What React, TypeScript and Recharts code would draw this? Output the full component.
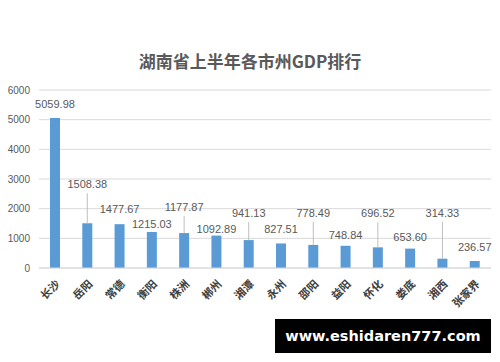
import React from 'react';
import { BarChart, Bar, XAxis, YAxis, CartesianGrid, LabelList } from 'recharts';

const categories = ['长沙', '岳阳', '常德', '衡阳', '株洲', '郴州', '湘潭', '永州', '邵阳', '益阳', '怀化', '娄底', '湘西', '张家界'];
const gdpValues = [5059.98, 1508.38, 1477.67, 1215.03, 1177.87, 1092.89, 941.13, 827.51, 778.49, 748.84, 696.52, 653.6, 314.33, 236.57];
const yTicks = [0, 1000, 2000, 3000, 4000, 5000, 6000];
const titleText = '湖南省上半年各市州GDP排行';
const watermarkText = 'www.eshidaren777.com';

const data = categories.map((name, i) => ({ name, value: gdpValues[i] }));

// style: vertical lift (px) of each value label above its bar top
const LABEL_LIFT = [14, 39, 15, 8, 26, 7, 27, 14, 32, 11, 34, 12, 46, 14];
const LEADER_MIN = 22;

const BAR_COLOR = '#5B9BD5';
const TEXT_COLOR = '#595959';
const GRID_COLOR = '#D9D9D9';

const ValueLabel = (props: any) => {
  const { x, y, width, value, index } = props;
  const cx = Number(x) + Number(width) / 2;
  const lift = LABEL_LIFT[index] ?? 12;
  const ly = Number(y) - lift;
  const text = Number(value).toFixed(2);
  return (
    <g>
      {lift > LEADER_MIN && (
        <line x1={cx} x2={cx} y1={ly + 9} y2={Number(y)} stroke="#BFBFBF" strokeWidth={1} />
      )}
      <text x={cx} y={ly} textAnchor="middle" dominantBaseline="central" fontSize={11} fill={TEXT_COLOR} fontFamily="'Liberation Sans', Arial, sans-serif">
        {text}
      </text>
    </g>
  );
};

const CityTick = (props: any) => {
  const { x, y, payload } = props;
  return (
    <g transform={`translate(${Number(x) + 3},${Number(y) + 6})`}>
      <text
        x={0}
        y={0}
        textAnchor="end"
        transform="rotate(-45)"
        dy="0.35em"
        fontSize={11}
        fontWeight="bold"
        fill="#404040"
        fontFamily="'Noto Sans CJK SC', sans-serif"
      >
        {payload.value}
      </text>
    </g>
  );
};

export default function App() {
  return (
    <div style={{ position: 'absolute', left: 0, top: 0, width: 500, height: 362, background: '#fff' }}>
      <div
        style={{
          position: 'absolute',
          left: 0,
          top: 49,
          width: 500,
          textAlign: 'center',
          fontFamily: "'Noto Sans CJK SC', sans-serif",
          fontSize: 17,
          fontWeight: 'bold',
          color: TEXT_COLOR,
          lineHeight: '24px',
        }}
      >
        {titleText}
      </div>
      <BarChart width={500} height={362} data={data} margin={{ top: 90, right: 9, bottom: 0, left: 0 }} barCategoryGap="35%">
        <CartesianGrid vertical={false} stroke={GRID_COLOR} />
        <XAxis
          dataKey="name"
          interval={0}
          tickLine={false}
          axisLine={{ stroke: GRID_COLOR }}
          height={94}
          tick={<CityTick />}
        />
        <YAxis
          domain={[0, 6000]}
          ticks={yTicks}
          width={39}
          tickLine={false}
          axisLine={false}
          tickMargin={3}
          tick={{ fontSize: 10, fill: TEXT_COLOR, fontFamily: "'Liberation Sans', Arial, sans-serif" }}
        />
        <Bar dataKey="value" fill={BAR_COLOR} barSize={10} isAnimationActive={false}>
          <LabelList dataKey="value" content={<ValueLabel />} />
        </Bar>
      </BarChart>
      <div
        style={{
          position: 'absolute',
          left: 275,
          top: 319,
          width: 216,
          height: 34,
          background: '#000',
          color: '#fff',
          fontFamily: "'DejaVu Sans', sans-serif",
          fontWeight: 'bold',
          fontSize: 14.5,
          lineHeight: '34px',
          textAlign: 'center',
        }}
      >
        {watermarkText}
      </div>
    </div>
  );
}
